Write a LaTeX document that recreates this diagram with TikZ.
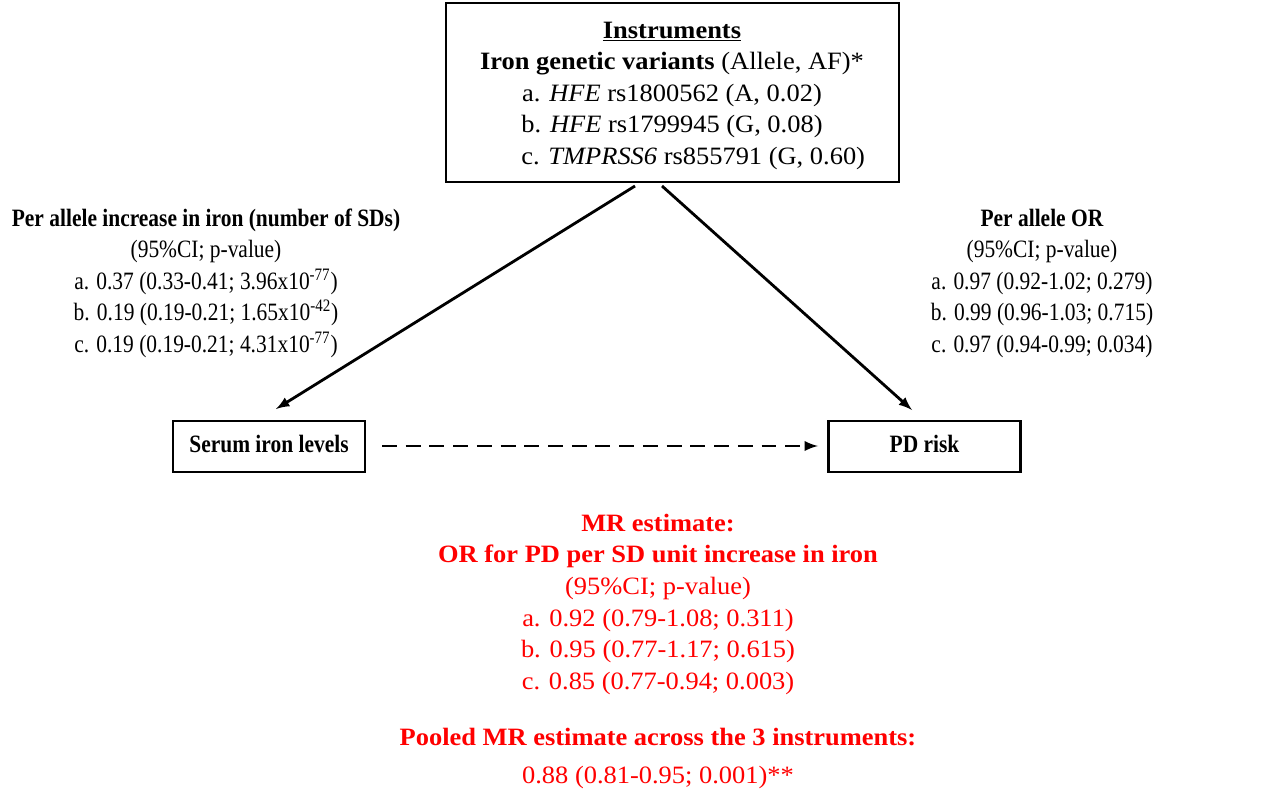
\documentclass[tikz,border=0pt]{standalone}
\usepackage{fontspec}
\usepackage{graphicx}
\setmainfont{Liberation Serif}
\newcommand{\sqz}[1]{\scalebox{0.86}[1]{\fontsize{14.2}{18}\selectfont\begin{tabular}{@{}c@{}}#1\end{tabular}}}
\newcommand{\wdz}[1]{\scalebox{1.06}[1]{\fontsize{14.2}{18}\selectfont\begin{tabular}{@{}c@{}}#1\end{tabular}}}
\begin{document}
\begin{tikzpicture}[x=0.02cm,y=-0.02cm,
  txt/.style={inner sep=0pt},
  boxn/.style={draw,line width=1.2pt,inner sep=0pt,minimum width=3.84cm,minimum height=1.02cm},
  arr/.style={line width=1.6pt,-latex}]
\useasboundingbox (0,0) rectangle (1280,800);
\definecolor{myred}{RGB}{255,0,0}
\node[draw,line width=1.2pt,minimum width=9.06cm,minimum height=3.58cm,inner sep=0pt] (inst) at (672.5,92.5) {};
\node[txt] (insttxt) at (672,95) {\wdz{%
\underline{\textbf{Instruments}}\\
\textbf{Iron genetic variants} (Allele, AF)*\\
a. \textit{HFE} rs1800562 (A, 0.02)\\
b. \textit{HFE} rs1799945 (G, 0.08)\\
\hspace*{1.6em}c. \textit{TMPRSS6} rs855791 (G, 0.60)}};
\node[boxn] (serum) at (269,446.5) {\sqz{\textbf{Serum iron levels}}};
\node[boxn] (pd) at (924.5,446.5) {\sqz{\textbf{PD risk}}};
\coordinate (s1) at (635,186);
\coordinate (s2) at (662,186);
\coordinate (t1) at (276,409);
\coordinate (t2) at (912,410);
\coordinate (d1) at (382,446);
\coordinate (d2) at (818,446);
\draw[arr] (s1) -- (t1);
\draw[arr] (s2) -- (t2);
\draw[arr,dash pattern=on 8.5pt off 5pt] (d1) -- (d2);
\node[txt] (left) at (206,283) {\sqz{%
\textbf{Per allele increase in iron (number of SDs)}\\
(95\%CI; p-value)\\
a. 0.37 (0.33-0.41; 3.96x10\textsuperscript{-77})\\
b. 0.19 (0.19-0.21; 1.65x10\textsuperscript{-42})\\
c. 0.19 (0.19-0.21; 4.31x10\textsuperscript{-77})}};
\node[txt] (right) at (1042,283) {\sqz{%
\textbf{Per allele OR}\\
(95\%CI; p-value)\\
a. 0.97 (0.92-1.02; 0.279)\\
b. 0.99 (0.96-1.03; 0.715)\\
c. 0.97 (0.94-0.99; 0.034)}};
\node[txt,text=myred] (mr) at (658,604) {\color{myred}\wdz{%
\textbf{MR estimate:}\\
\textbf{OR for PD per SD unit increase in iron}\\
(95\%CI; p-value)\\
a. 0.92 (0.79-1.08; 0.311)\\
b. 0.95 (0.77-1.17; 0.615)\\
c. 0.85 (0.77-0.94; 0.003)}};
\node[txt,text=myred] (pool) at (658,758) {\color{myred}\wdz{%
\textbf{Pooled MR estimate across the 3 instruments:}\\[4pt]
0.88 (0.81-0.95; 0.001)**}};
\end{tikzpicture}
\end{document}
